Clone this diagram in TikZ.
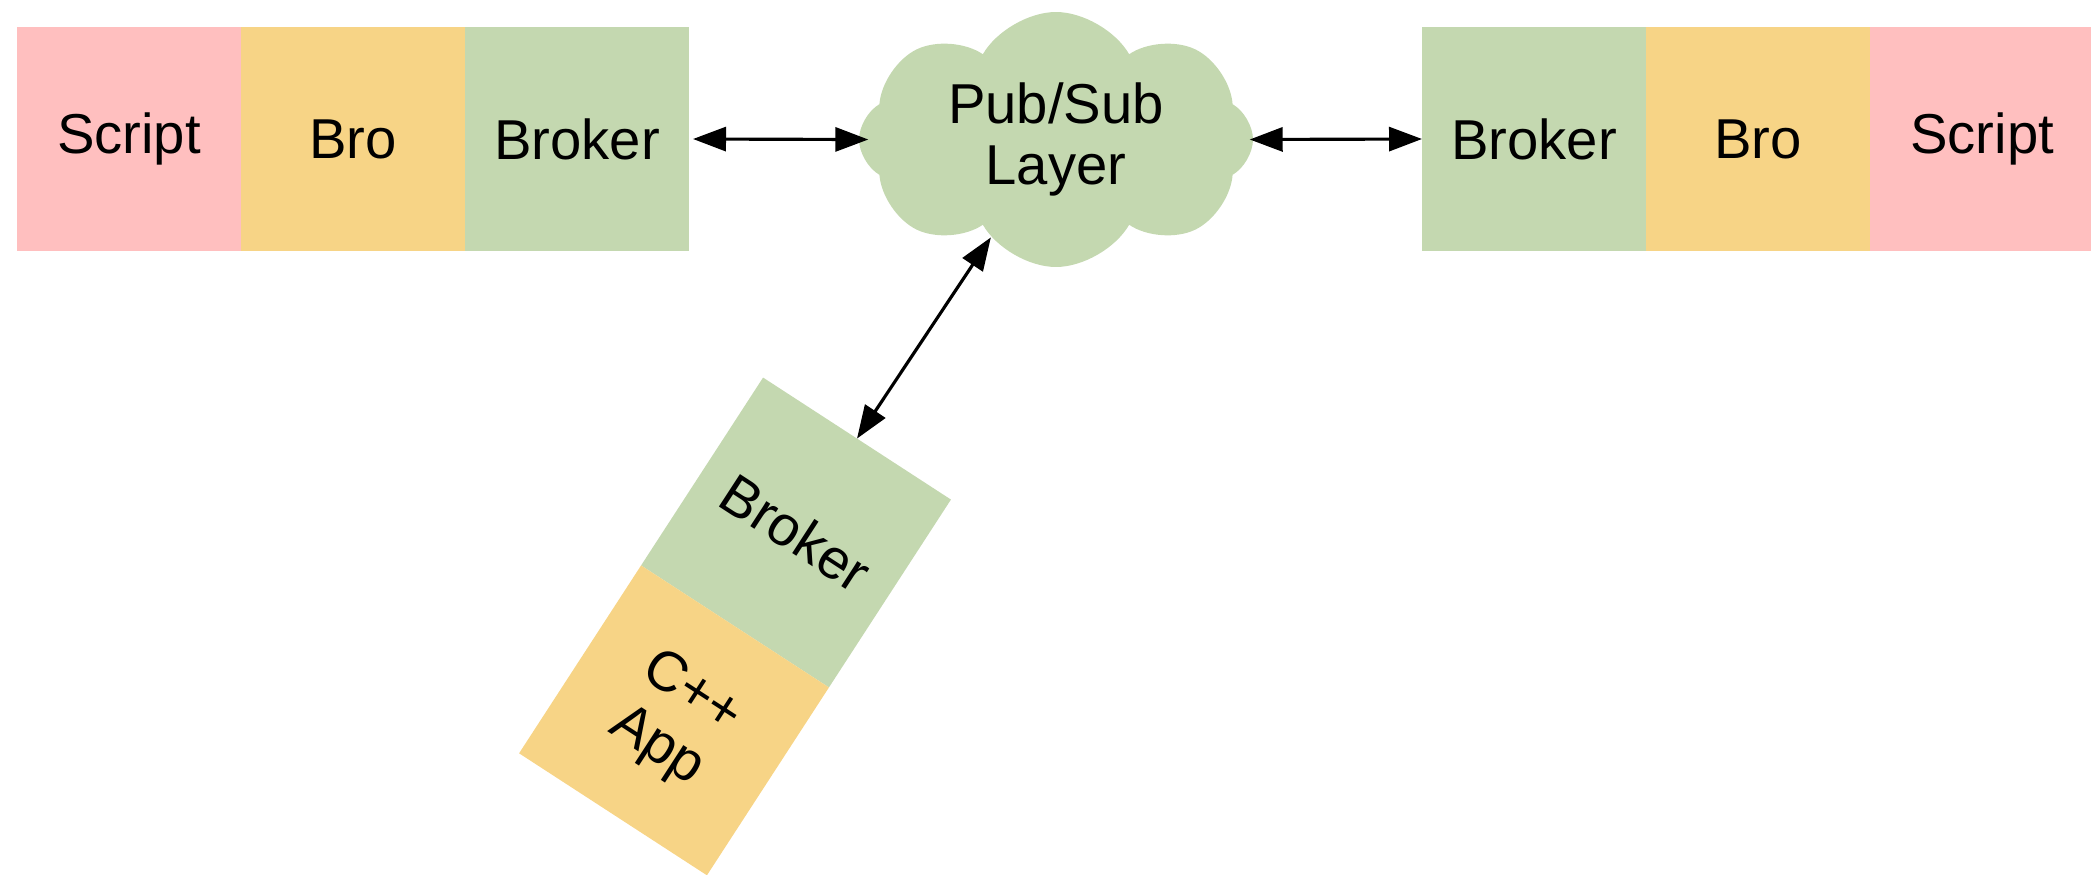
\documentclass[tikz,border=0pt]{standalone}
\usepackage{fontspec}
\setmainfont{Liberation Sans}
\usetikzlibrary{positioning,shapes.symbols,arrows.meta}
\definecolor{scriptred}{RGB}{255,191,191}
\definecolor{broorange}{RGB}{247,212,134}
\definecolor{brokergreen}{RGB}{196,216,176}
\newcommand\blocksize{22.4mm}
\newcommand\tilt{-33}

\begin{document}
\begin{tikzpicture}[
    block/.style={minimum width=\blocksize,minimum height=\blocksize,inner sep=0pt,outer sep=0pt,
      align=center,font=\fontsize{16}{18}\selectfont},
    script/.style={block,fill=scriptred},
    bro/.style={block,fill=broorange},
    broker/.style={block,fill=brokergreen},
    link/.style={{Triangle[length=3.3mm,width=2.4mm]}-{Triangle[length=3.3mm,width=2.4mm]},line width=0.9pt},
    node distance=0pt
  ]
  \useasboundingbox (0,0) rectangle (20.91,8.74);

  % left endpoint
  \node[script] (lscript) at (1.29,7.35) {Script};
  \node[bro,right=of lscript] (lbro) {Bro};
  \node[broker,right=of lbro] (lbroker) {Broker};

  % pub/sub layer
  \node[cloud,fill=brokergreen,cloud puffs=8,cloud puff arc=120,cloud ignores aspect,
    minimum width=39.4mm,minimum height=25.5mm,inner sep=0pt,
    align=center,font=\fontsize{16}{17.5}\selectfont] (pubsub) at (10.56,7.345) {\raisebox{-1.2mm}{Pub/Sub}\\\raisebox{-1.2mm}{Layer}};

  % right endpoint
  \node[broker] (rbroker) at (15.34,7.35) {Broker};
  \node[bro,right=of rbroker] (rbro) {Bro};
  \node[script,right=of rbro] (rscript) {Script};

  % c++ app
  \node[broker,rotate=\tilt] (cbroker) at (7.96,3.415) {Broker};
  \node[bro,rotate=\tilt,below=of cbroker] (capp) {C++\\App};

  \draw[link,shorten >=-1mm] ([xshift=0.4mm]lbroker.east) -- (pubsub.west);
  \draw[link,shorten <=-0.4mm] (pubsub.east) -- (rbroker.west);
  \draw[link] (pubsub) -- (cbroker.north);
\end{tikzpicture}
\end{document}
